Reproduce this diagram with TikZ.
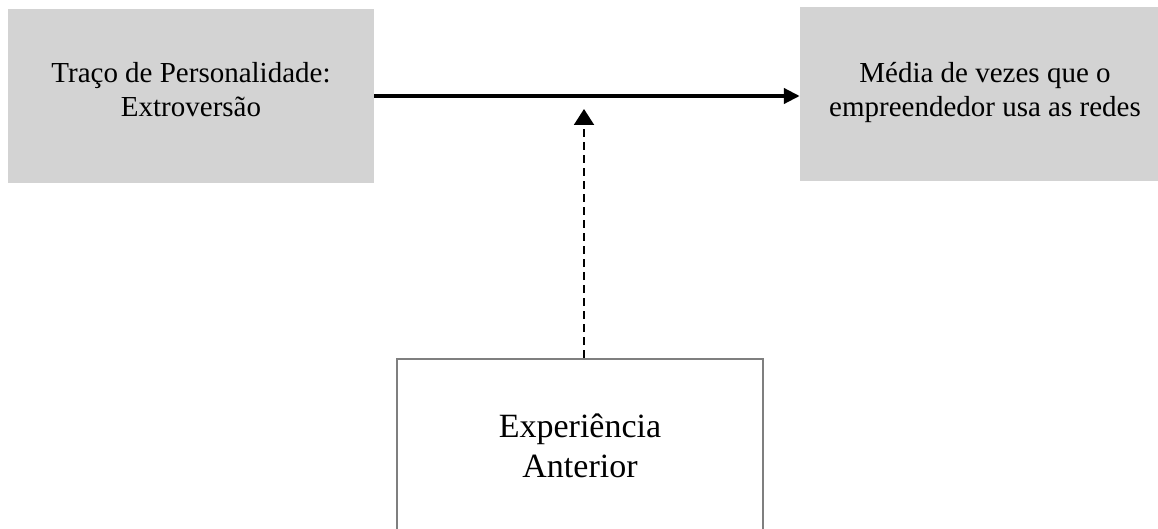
\documentclass[tikz,border=0pt]{standalone}
\usepackage{fontspec}
\setmainfont{Liberation Serif}
\usetikzlibrary{arrows.meta}
\definecolor{boxgray}{HTML}{D3D3D3}
\definecolor{edgegray}{HTML}{7F7F7F}
\tikzset{
  graybox/.style={fill=boxgray, draw=none, minimum width=366pt, minimum height=174pt, inner sep=0pt},
  whitebox/.style={fill=white, draw=edgegray, line width=2pt, minimum width=366pt, minimum height=174pt, inner sep=0pt, align=center, font=\fontsize{34}{40}\selectfont},
  toptext/.style={inner sep=0pt, align=center, anchor=north, font=\fontsize{29}{34.5}\selectfont},
  mainarrow/.style={line width=4pt, -{Triangle[length=16pt, width=15pt]}},
  modarrow/.style={line width=2pt, dash pattern=on 8pt off 5pt, -{Triangle[length=16pt, width=20pt]}}
}
\begin{document}
\begin{tikzpicture}[x=1pt, y=-1pt]
\useasboundingbox (0,0) rectangle (1158,529);
\clip (0,0) rectangle (1158,529);
\fill[white] (0,0) rectangle (1158,529);
\node[graybox] (L) at (191,96) {};
\node[graybox] (R) at (983,94) {};
\node[toptext] (Lt) at (191,62) {Traço de Personalidade:\\Extroversão};
\node[toptext] (Rt) at (985,62) {Média de vezes que o\\empreendedor usa as redes};
\node[whitebox] (B) at (580,446) {Experiência\\Anterior};
\coordinate (m) at (584,109);
\draw[mainarrow] (L.east) -- (L.east -| R.west);
\draw[modarrow] (m |- B.north) -- (m);
\end{tikzpicture}
\end{document}
